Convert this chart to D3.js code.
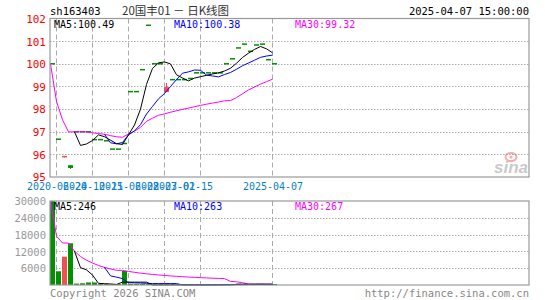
<!DOCTYPE html>
<html><head><meta charset="utf-8">
<script src="https://cdn.jsdelivr.net/npm/d3@7"></script>
<style>
body{margin:0;background:#fff}
svg{display:block}
text{font-family:"DejaVu Sans Mono","Liberation Mono",monospace;font-size:10px}
</style>
</head><body>
<svg id="c" width="545" height="300"></svg>
<script>
// ---- data ----
const opens  = [100.00,96.67,95.85,95.52,97.00,97.00,97.00,96.65,96.65,96.60,96.23,96.23,96.48,98.77,98.77,99.74,101.70,100.00,100.00,98.75,99.30,99.30,99.30,99.35,99.60,99.60,99.60,99.60,99.60,100.00,100.22,100.70,100.87,100.55,100.83,100.87,100.18,100.00];
const highs  = [100.00,96.67,95.90,95.52,97.00,97.00,97.00,96.65,96.65,96.60,96.23,96.23,96.48,98.77,98.77,99.74,101.70,100.00,100.00,99.15,99.30,99.30,99.30,99.35,99.60,99.60,99.60,99.60,99.60,100.00,100.22,100.70,100.87,100.55,100.83,100.87,100.18,100.00];
const lows   = [100.00,96.67,95.85,95.36,97.00,97.00,97.00,96.65,96.65,96.60,96.23,96.23,96.48,98.77,98.77,99.74,101.70,100.00,100.00,98.75,99.30,99.30,99.30,99.35,99.60,99.60,99.60,99.60,99.60,100.00,100.22,100.70,100.87,100.55,100.83,100.87,100.18,100.00];
const closes = [100.00,96.67,95.90,95.40,97.00,97.00,97.00,96.65,96.65,96.60,96.23,96.23,96.48,98.77,98.77,99.74,101.70,100.00,100.00,98.97,99.30,99.30,99.30,99.35,99.60,99.60,99.60,99.60,99.60,100.00,100.22,100.70,100.87,100.55,100.83,100.87,100.18,100.00];
const volumes = [30000,4900,10100,14900,500,600,900,900,20,20,20,20,5000,20,20,20,20,20,20,30,20,20,20,20,20,20,20,20,100,200,200,500,400,150,200,280,300,300];
const gridIndex   = [1,7,13,19,25,37];
const xTickIndex  = [1,7,13,19,22,37];
const xTickLabels = ["2020-06-24","2020-10-15","2021-06-08","2022-07-01","2023-02-15","2025-04-07"];
const priceTicks = [95,96,97,98,99,100,101,102];
const volTicks = [6000,12000,18000,24000,30000];
const title = "20国丰01 － 日K线图";
const code = "sh163403";
const stamp = "2025-04-07 15:00:00";

// ---- layout ----
const L = 50, R = 529, mainTop = 18.5, mainBot = 177, volTop = 201, volBot = 285;
const RED = "#f05050", GREEN = "#009000", GRID = "#aaaaaa";
const svg = d3.select("#c");
const n = closes.length;
const x = d3.scaleLinear().domain([0, n]).range([L, L + 6 * n]);
const y = d3.scaleLinear().domain([95, 102]).range([mainBot, mainTop]);
const yv = d3.scaleLinear().domain([0, 30000]).range([volBot, volTop]);

function ma(arr, k, expanding) {
  return arr.map((_, i) => {
    if (i < k - 1 && !expanding) return null;
    return d3.mean(arr.slice(Math.max(0, i - k + 1), i + 1));
  });
}
const ma5 = ma(closes, 5), ma10 = ma(closes, 10), ma30 = ma(closes, 30, true);
const vma5 = ma(volumes, 5), vma10 = ma(volumes, 10), vma30 = ma(volumes, 30, true);
const isRed = i => closes[i] > opens[i];

// ---- grids ----
function panelGrid(ys, top, bot, vals) {
  const g = svg.append("g");
  g.selectAll("line.h").data(vals).join("line")
    .attr("x1", L).attr("x2", R).attr("y1", d => Math.round(ys(d)) + 0.5).attr("y2", d => Math.round(ys(d)) + 0.5)
    .attr("stroke", GRID).attr("stroke-dasharray", "1.5,1.5");
  g.selectAll("line.v").data(gridIndex).join("line")
    .attr("x1", d => x(d) + 0.5).attr("x2", d => x(d) + 0.5).attr("y1", top).attr("y2", bot)
    .attr("stroke", GRID).attr("stroke-dasharray", "5,3");
}
panelGrid(y, mainTop, mainBot, priceTicks.filter(d => d > 95 && d < 102));
panelGrid(yv, volTop, volBot, volTicks.filter(d => d < 30000));

// sina logo
const logo = svg.append("g").attr("opacity", 0.6);
logo.append("text").attr("x", 528).attr("y", 173).attr("text-anchor", "end")
  .style("font-family", "Liberation Sans, Arial").style("font-size", "17px").style("font-style", "italic").style("font-weight", "bold")
  .attr("fill", "#a8a8a8").text("sina");
logo.append("ellipse").attr("cx", 511).attr("cy", 157).attr("rx", 5.5).attr("ry", 4).attr("fill", "none").attr("stroke", "#e77").attr("stroke-width", 2);
logo.append("circle").attr("cx", 511).attr("cy", 157).attr("r", 1.5).attr("fill", "#e77");

// ---- price panel: candles ----
const cg = svg.append("g");
d3.range(n).forEach(i => {
  const col = isRed(i) ? RED : GREEN;
  const cx = x(i) + 2.5;
  if (highs[i] > lows[i]) {
    cg.append("line").attr("x1", cx).attr("x2", cx).attr("y1", y(highs[i])).attr("y2", y(lows[i])).attr("stroke", col);
  }
  const y1 = Math.min(y(opens[i]), y(closes[i])), h = Math.abs(y(opens[i]) - y(closes[i]));
  cg.append("rect").attr("x", x(i)).attr("width", 5).attr("y", h < 1.5 ? y(closes[i]) - 0.75 : y1).attr("height", Math.max(1.5, h)).attr("fill", col);
});

function drawLine(vals, ys, color) {
  const line = d3.line().defined(d => d != null).x((d, i) => x(i) + 0.5).y(d => ys(d));
  svg.append("path").datum(vals).attr("d", line).attr("fill", "none").attr("stroke", color).attr("stroke-width", 1);
}
drawLine(ma30, y, "#ff00ff");
drawLine(ma10, y, "#0000ff");
drawLine(ma5, y, "#000000");

// ---- volume panel ----
const vg = svg.append("g");
vg.selectAll("rect").data(volumes).join("rect")
  .attr("x", (d, i) => x(i)).attr("width", 5)
  .attr("y", d => Math.min(yv(d), volBot - 1)).attr("height", d => Math.max(1, volBot - yv(d)))
  .attr("fill", (d, i) => isRed(i) ? RED : GREEN);
drawLine(vma30, yv, "#ff00ff");
drawLine(vma10, yv, "#0000ff");
drawLine(vma5, yv, "#000000");

// ---- frames ----
svg.append("rect").attr("x", L).attr("y", mainTop).attr("width", R - L).attr("height", mainBot - mainTop).attr("fill", "none").attr("stroke", "#999").attr("stroke-width", 1.2);
svg.append("rect").attr("x", L).attr("y", volTop).attr("width", R - L).attr("height", volBot - volTop).attr("fill", "none").attr("stroke", "#999").attr("stroke-width", 1.2);

// ---- axes ----
const ay = svg.append("g").attr("transform", `translate(${L},0)`)
  .call(d3.axisLeft(y).tickValues(priceTicks).tickSize(0).tickPadding(4).tickFormat(d3.format("d")));
ay.select(".domain").remove();
ay.selectAll("text").attr("fill", "#ff0000").style("font-size", "11px").attr("dy", "0.35em");

const av = svg.append("g").attr("transform", `translate(${L},0)`)
  .call(d3.axisLeft(yv).tickValues(volTicks).tickSize(0).tickPadding(4).tickFormat(d3.format("d")));
av.select(".domain").remove();
av.selectAll("text").attr("fill", "#999").style("font-size", "10.5px").attr("dy", "0.35em");

const ax = svg.append("g").attr("transform", `translate(0.5,${mainBot})`)
  .call(d3.axisBottom(x).tickValues(xTickIndex).tickSize(0).tickPadding(0).tickFormat((d, i) => xTickLabels[i]));
ax.select(".domain").remove();
ax.selectAll("text").attr("fill", "#0a7fc8").attr("y", 13).attr("dy", 0).style("font-size", "10px");

// ---- texts ----
const fmt2 = d3.format(".2f"), fmt0 = d3.format("d");
svg.append("text").attr("x", 50).attr("y", 15).attr("fill", "#000").style("font-size", "10.5px").text(code);
svg.append("text").attr("x", 122).attr("y", 15).attr("fill", "#333").style("font-family", "Noto Sans CJK SC").style("font-size", "11.5px").text(title);
svg.append("text").attr("x", 529).attr("y", 15).attr("text-anchor", "end").attr("fill", "#000").style("font-size", "10.5px").text(stamp);
svg.append("text").attr("x", 54).attr("y", 27.5).attr("fill", "#000").text("MA5:" + fmt2(ma5[n - 1]));
svg.append("text").attr("x", 174).attr("y", 27.5).attr("fill", "#0000ff").text("MA10:" + fmt2(ma10[n - 1]));
svg.append("text").attr("x", 295).attr("y", 27.5).attr("fill", "#ff00ff").text("MA30:" + fmt2(ma30[n - 1]));
svg.append("text").attr("x", 54).attr("y", 210).attr("fill", "#000").text("MA5:" + fmt0(Math.round(vma5[n - 1])));
svg.append("text").attr("x", 174).attr("y", 210).attr("fill", "#0000ff").text("MA10:" + fmt0(Math.round(vma10[n - 1])));
svg.append("text").attr("x", 295).attr("y", 210).attr("fill", "#ff00ff").text("MA30:" + fmt0(Math.round(vma30[n - 1])));
svg.append("text").attr("x", 50).attr("y", 297).attr("fill", "#888").style("font-size", "10.5px").text("Copyright 2026 SINA.COM");
svg.append("text").attr("x", 529).attr("y", 297).attr("text-anchor", "end").attr("fill", "#888").style("font-size", "10.5px").text("http://finance.sina.com.cn");
</script>
</body></html>
